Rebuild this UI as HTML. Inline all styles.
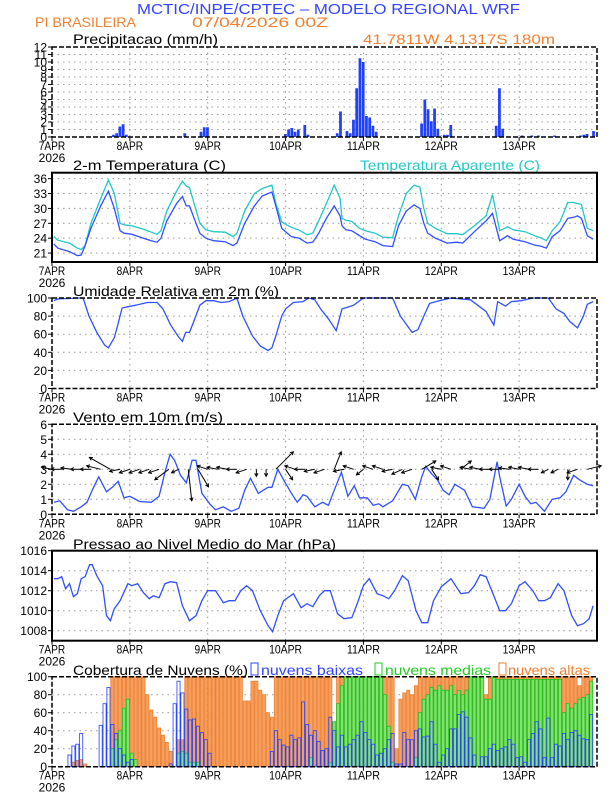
<!DOCTYPE html>
<html><head><meta charset="utf-8"><style>
html,body{margin:0;padding:0;background:#fff;}
svg{display:block;font-family:"Liberation Sans",sans-serif;}
</style></head><body>
<svg id="chart" width="612" height="792" viewBox="0 0 612 792" xmlns="http://www.w3.org/2000/svg">
<text x="137" y="14" font-size="15" fill="#3344ff" textLength="383" lengthAdjust="spacingAndGlyphs">MCTIC/INPE/CPTEC – MODELO REGIONAL WRF</text>
<text x="35" y="27" font-size="14" fill="#f08030" textLength="101" lengthAdjust="spacingAndGlyphs">PI BRASILEIRA</text>
<text x="192" y="27" font-size="14" fill="#f08030" textLength="136" lengthAdjust="spacingAndGlyphs">07/04/2026 00Z</text>
<text x="363" y="44" font-size="14" fill="#f08030" textLength="192" lengthAdjust="spacingAndGlyphs">41.7811W 4.1317S 180m</text>
<text x="73" y="44" font-size="14" fill="#000" textLength="145" lengthAdjust="spacingAndGlyphs">Precipitacao (mm/h)</text>
<text x="73" y="170" font-size="14" fill="#000" textLength="153" lengthAdjust="spacingAndGlyphs">2-m Temperatura (C)</text>
<text x="360" y="170" font-size="14" fill="#20c8c8" textLength="180" lengthAdjust="spacingAndGlyphs">Temperatura Aparente (C)</text>
<text x="73" y="296" font-size="14" fill="#000" textLength="206" lengthAdjust="spacingAndGlyphs">Umidade Relativa em 2m (%)</text>
<text x="73" y="422" font-size="14" fill="#000" textLength="150" lengthAdjust="spacingAndGlyphs">Vento em 10m (m/s)</text>
<text x="73" y="549" font-size="14" fill="#000" textLength="263" lengthAdjust="spacingAndGlyphs">Pressao ao Nivel Medio do Mar (hPa)</text>
<text x="73" y="675" font-size="14" fill="#000" textLength="175" lengthAdjust="spacingAndGlyphs">Cobertura de Nuvens (%)</text>
<rect x="251" y="663" width="7" height="12" fill="none" stroke="#3344ff"/>
<text x="261" y="675" font-size="14" fill="#3344ff" textLength="102" lengthAdjust="spacingAndGlyphs">nuvens baixas</text>
<rect x="375" y="663" width="7" height="12" fill="none" stroke="#22cc22"/>
<text x="385" y="675" font-size="14" fill="#22cc22" textLength="106" lengthAdjust="spacingAndGlyphs">nuvens medias</text>
<rect x="499" y="663" width="7" height="12" fill="none" stroke="#f08030"/>
<text x="508" y="675" font-size="14" fill="#f08030" textLength="82" lengthAdjust="spacingAndGlyphs">nuvens altas</text>
</svg>
<script>
// ---- data ----
const dayLabels=["7APR","8APR","9APR","10APR","11APR","12APR","13APR"];
const yearLabel="2026";
const precipHours=[19,20,21,22,23,41,46,47,48,72,73,74,75,76,78,79,88,89,91,92,93,94,95,96,97,98,99,100,114,115,116,117,118,119,121,122,123,137,138,139,145,148,150,155,163,164,165,167];
const precipVals=[0.3,0.5,1.4,1.7,0.3,0.5,0.7,1.3,1.3,0.4,1,1.2,0.7,1.0,1.6,0.3,0.5,3.4,0.8,0.5,2.3,6.5,10.5,10,2.8,2.6,1.5,0.7,1.8,5,3.7,2.1,3.8,1.1,0.3,0.3,1.6,1.5,6.5,1.1,0.2,0.2,0.2,0.2,0.2,0.3,0.4,0.8];
const precipTicks=[0,1,2,3,4,5,6,7,8,9,10,11,12];

const tempHours=[0.6,1.8,5.4,7.8,9,10.2,12,15,17.4,19.2,21,22.2,24.6,28.2,30.6,32.4,33.6,35.4,38.4,40.2,41.4,42.4,43.8,45.6,47.4,49.8,53.4,55.8,57,59.4,62.4,64.8,67.8,69,70.8,72,73.8,76.2,78.6,80.4,82.2,84.6,87,88.8,89.4,90.6,92.4,94.8,96.6,99.6,102,105,106.8,109.2,111.6,113.4,114.6,115.8,118.2,121.8,124.8,126.6,130.2,133.8,135.8,138,140.4,142.2,145.8,148.8,150.6,152.4,154.2,156.6,159,160.8,162,163.2,165,166.8];
const tempVals=[22.8,22,21.3,20.5,20.6,22.5,26,30.5,33.5,30,25.5,25,24.8,24,23.5,23.2,24,27.5,31,32.4,30.5,30.5,28,25,24,23.5,23.3,22.5,23,27,30.5,32.5,33.3,30.5,26,25.3,24.3,24,23,23.2,25,28,30.5,28.5,26.5,25.7,25.5,24.5,23.8,23.3,22.5,22.3,26.5,29.5,30.7,30,27,25,24,23,23.2,23,25.3,27.5,29,23.5,24.5,23.8,23.3,22.6,22.4,22,24.3,25.5,28,28.2,28.5,28,24.5,23.8];
const apparentVals=[24.3,23.6,23,22,21.7,22.5,27,32,35.7,33,27,26.7,26.5,25.8,25.2,24.8,25.5,29.5,33.5,35.5,34.5,34.2,31,27,25.7,25.3,25.2,24.3,25,29.5,33,34,34.7,31,27.3,26.8,26.2,25.6,24.7,25,27.5,31,34.7,32,28,27.6,27.4,26,25.5,25,24.2,24.1,28.5,33,34.7,34.3,30,27,26,24.9,24.9,24.7,26.5,28.5,32.8,25.5,26.3,25.7,25.3,24.5,24.1,23.5,25.5,27.3,31.2,31.2,31,30.8,26,25.5];
const tempTicks=[21,24,27,30,33,36];

const rhHours=[0.6,1.8,9,9.6,11.4,13.8,16.2,17.4,19.2,20.4,21.6,22.8,25.8,29.4,32.4,34.2,36.6,39,40.2,41.2,42.4,43.8,45.6,47.4,49.8,52.2,54.6,57,58.8,61.8,64.2,66.6,67.8,69,70.8,72,74.4,77.4,79.2,81,82.8,85.2,87.6,89.4,91.2,93,96,105,107.4,111,112.8,114.6,116.4,119.4,123,129,133.8,136.2,137.4,139.8,141.6,144.6,148.2,153,155.4,157.8,159.6,162,163.8,165,166.8];
const rhVals=[97,99,100,100,80,62,48,45,56,72,89,90,92,95,95,88,70,57,52,62,62,75,92,97,97,95,96,100,80,58,47,42,45,58,80,88,95,96,100,98,88,77,64,88,90,92,100,100,80,62,65,80,94,97,100,98,85,70,96,91,96,97,100,100,88,83,74,67,80,93,96];
const rhTicks=[0,20,40,60,80,100];

const windHours=[0.6,2.4,4.8,6.6,9,10.8,12.6,14.4,16.8,18.6,20.4,22.2,24,27,30.6,33,34.8,36.4,37.8,39.6,41.4,43.2,44.4,46.2,48.6,50.4,52.8,55.2,57.6,59.4,61.2,63.6,66.6,67.8,69.6,71.4,73.8,75.6,77.4,78.6,81,83.4,85.2,87,89.2,91.2,93.2,94.8,97.2,99,100.8,102,105,108,109.8,112,114,115.2,117,118.8,120.6,122.4,124.2,127.2,129.6,133.2,135,137.2,138,140,141.6,144,145.8,147.6,149.2,151.8,154.2,156.6,158.4,160.8,162.6,165,166.8];
const windVals=[0.8,0.9,0.3,0.2,0.5,0.8,1.7,2.5,1.5,1.8,2.2,1.1,1.2,0.85,0.8,1.2,2.8,4.0,3.6,2.6,2.1,3.6,3.6,1.4,0.7,0.3,0.5,0.2,0.4,1.6,2.4,1.4,1.8,1.8,3.0,2.3,1.4,0.8,1.3,1.2,0.5,0.8,0.6,1.6,2.8,1.2,1.9,1.1,1.1,0.6,0.7,0.5,0.9,2.0,1.9,1.0,2.5,3.2,2.7,2.3,1.6,1.3,2.0,1.6,0.5,0.4,1.0,3.5,2.5,0.55,1.0,2.0,1.2,0.7,0.8,0.2,1.0,1.1,1.5,2.6,2.3,2.0,1.9];
const windTicks=[0,1,2,3,4,5,6];
const vecHours=[0,3,6,9,12,15,18,21,24,27,30,33,36,39,42,45,48,51,54,57,60,63,66,69,72,75,78,81,84,87,90,93,96,99,102,105,108,111,114,117,120,123,126,129,132,135,138,141,144,147,150,153,156,159,162,165];
const vecU=[-1.5,-1.5,-1.5,-1.5,-1.5,-2,-3,-1.5,-1.5,-1.5,-1.5,-1.5,-2,-1,0.5,1.5,-1.5,-1.5,-1.5,-1.5,-1.5,0,0,2.5,1,-1.5,-1.5,-1.5,-1.5,1,-1.5,-1.5,-1,-1.5,-1.5,-1.5,-1.5,-1.5,2,1,-1.5,-1.5,1.5,-1.5,-1.5,-1.5,-1.5,-1.5,-1.5,-1.5,-1.5,-1,-1,0,-1.5,2];
const vecV=[0.3,0,0.2,0,0,0.5,1.7,-0.3,-0.5,-0.5,-0.5,-0.5,-1.5,-0.5,-4.5,-2.5,0.5,0.3,0.3,0,-0.5,-1,-1,2.5,-1.5,0.5,0,-0.3,-0.5,2.5,-0.3,0.5,-0.8,0.5,0.5,-0.3,-0.7,-0.5,1.2,-1.5,0.3,0.5,1.2,0.3,0.3,0,0,0.2,0.3,0.3,0,-0.5,-0.5,-1.5,-0.5,0.5];

const presHours=[0.6,1.8,3,4.2,5.4,6.6,7.8,9,10.2,11.6,12.4,13.8,15.6,16.8,18,19.2,21,23.4,24.6,26.4,28.2,30,31.2,33,34.8,36.6,38.4,40.2,42.4,44.4,46.2,48,50.4,52.8,54.6,56.4,58.2,60,61.8,64.2,66.6,68,69.6,71.4,74.4,76.8,78.6,80.4,82.4,84,85.8,88,90,92.4,94.2,96,97.8,100.2,102,103.8,105.6,108,109.8,112.2,114,115.8,117.6,120,123,126,128.4,130.2,132,133.8,136.2,138,139.8,141.6,144,145.8,148.2,150,151.8,153.6,156,157.8,160.2,162,163.8,165.6,166.8];
const presVals=[1013.2,1013.2,1013.4,1012.2,1012.7,1011.4,1011.7,1013.2,1013.4,1014.6,1014.6,1013.5,1012.5,1009.5,1009,1010.2,1011,1012.7,1012.5,1012.7,1011.8,1011.2,1011.5,1011.3,1012.7,1012.9,1012.8,1010.5,1009,1009.5,1011,1012,1012,1010.8,1011,1011,1012,1012.5,1012,1010,1008.5,1007.9,1009.5,1011,1011.7,1010.3,1010.7,1010.4,1011.5,1012,1012,1009.7,1009.2,1009.3,1010.8,1012.5,1013.2,1011.7,1011.5,1011.2,1012,1013.5,1013,1010,1008.8,1008.8,1011,1012.4,1013.2,1011.7,1011.8,1012.5,1013.6,1013.4,1011.5,1010,1010,1010.7,1012.5,1012.9,1012,1011,1011,1011.3,1012.7,1012,1009.5,1008.5,1008.7,1009.2,1010.5];
const presTicks=[1008,1010,1012,1014,1016];

const cloudStartHour=0.6, cloudStepHour=1.2;
const cloudHigh=[0,0,0,0,0,5,7,8,3,0,0,0,0,0,0,100,100,100,100,100,100,100,100,100,80,63,55,43,35,27,17,0,30,30,100,100,100,100,100,100,100,100,100,100,100,100,100,100,100,73,73,95,95,85,80,60,55,100,100,100,100,100,100,100,100,100,100,100,100,100,100,100,0,100,100,100,100,100,100,100,100,100,100,100,100,100,100,100,20,75,82,85,80,90,100,100,100,100,100,100,100,100,100,100,100,100,100,100,100,100,100,80,100,80,100,100,100,100,100,100,100,100,100,100,100,100,100,100,100,100,100,100,100,100,100,90,100,100,100];
const cloudMid=[0,0,0,0,0,0,0,0,0,0,0,0,0,0,0,20,30,40,65,75,15,8,0,0,0,0,0,0,0,0,0,0,15,17,15,5,5,5,0,0,0,0,0,0,0,0,0,0,0,0,0,0,0,0,0,0,0,0,0,0,0,0,0,0,0,0,10,0,0,0,0,5,50,70,90,100,100,100,100,100,100,100,100,100,100,80,45,5,0,0,0,0,0,10,60,75,80,88,85,90,85,85,90,80,85,80,85,100,100,100,100,75,75,100,97,97,97,97,97,97,97,97,97,97,97,97,97,97,97,97,97,60,70,65,70,75,77,80,95];
const cloudLow=[0,0,0,0,13,23,25,37,0,0,0,0,46,70,88,47,37,20,13,5,8,0,0,0,0,0,0,0,0,0,3,70,95,82,64,52,53,45,38,30,15,0,0,0,0,0,0,0,0,0,0,0,0,0,0,0,17,40,30,24,22,35,30,32,72,47,35,40,28,18,20,55,40,22,35,22,25,30,35,50,38,30,25,13,15,20,30,37,3,3,38,30,30,40,42,33,34,50,25,5,13,20,42,42,58,61,55,32,13,0,11,11,20,25,18,20,22,30,25,10,11,5,30,37,50,42,10,54,10,25,23,37,30,38,40,35,31,30,58];
const cloudTicks=[0,20,40,60,80,100];

// ---- layout ----
const svg=document.getElementById('chart');
const NS='http://www.w3.org/2000/svg';
const X0=52, X1=597, HMAX=168;
function xh(h){return X0+h*(X1-X0)/HMAX;}
function el(tag,attrs,parent){const e=document.createElementNS(NS,tag);for(const k in attrs)e.setAttribute(k,attrs[k]);(parent||svg).appendChild(e);return e;}

function panel(name,top,bottom,vmin,vmax,ticks,dashedFrame,thick){
  const g=el('g',{});
  
  
  const y=v=>bottom-(v-vmin)/(vmax-vmin)*(bottom-top);
  ticks.forEach(t=>{
    const yy=y(t);
    if(yy>top+1&&yy<bottom-1){const gl=el('line',{x1:X0,x2:X1,y1:yy,y2:yy,stroke:'#999','stroke-dasharray':'1.5 4','stroke-width':1},g);
      
      }
    const tk=el('line',{x1:X0-4,x2:X0,y1:yy,y2:yy,stroke:'#000'},g);
    
    
    const tl=el('text',{x:X0-5,y:yy+4.5,'font-size':12,'text-anchor':'end',fill:'#000'},g);
    tl.textContent=t;
    
    
  });
  for(let d=1;d<7;d++){
    const vx=xh(d*24);
    const vl=el('line',{x1:vx,x2:vx,y1:top,y2:bottom,stroke:'#999','stroke-dasharray':'1.5 4'},g);
    
    
  }
  dayLabels.forEach((lab,d)=>{
    const vx=xh(d*24);
    el('line',{x1:vx,x2:vx,y1:bottom,y2:bottom+4,stroke:'#000'},g);
    const t=el('text',{x:vx,y:bottom+13,'font-size':12,'text-anchor':'middle',fill:'#000',textLength:lab.length*6.6,lengthAdjust:'spacingAndGlyphs'},g);
    t.textContent=lab;
    
    
  });
  const yl=el('text',{x:X0,y:bottom+25,'font-size':12,'text-anchor':'middle',fill:'#000'},g);
  yl.textContent=yearLabel;
  
  
  return {g,y,top,bottom,dashedFrame,thick};
}
function frame(p,name){
  const f=el('rect',{x:X0,y:p.top,width:X1-X0,height:p.bottom-p.top,fill:'none',stroke:'#000','stroke-width':p.thick?2:1.5},p.g);
  if(p.dashedFrame)f.setAttribute('stroke-dasharray','5 2');
  
  
}
function line(p,hours,vals,color,name){
  const pts=hours.map((h,i)=>xh(h).toFixed(1)+','+p.y(vals[i]).toFixed(1)).join(' ');
  const l=el('polyline',{points:pts,fill:'none',stroke:color,'stroke-width':1.3},p.g);
  
  
}

// precipitation
const pP=panel('precip',47,137,0,12,precipTicks,true,false);
const hw=(X1-X0)/HMAX;
precipHours.forEach((h,i)=>{
  const yy=pP.y(precipVals[i]);
  const b=el('rect',{x:xh(h)-hw/2,y:yy,width:hw*0.85,height:pP.bottom-yy,fill:'#2040ff'},pP.g);
  
  
});
frame(pP,'precip');

// temperature
const pT=panel('temp',172.7,262,19.2,37.2,tempTicks,false,true);
line(pT,tempHours,apparentVals,'#20c8c8','apparent-temp-line');
line(pT,tempHours,tempVals,'#3050ff','temp-line');
frame(pT,'temp');

// RH
const pR=panel('rh',298,388.5,0,100,rhTicks,true,false);
line(pR,rhHours,rhVals,'#3050ff','rh-line');
frame(pR,'rh');

// wind
const pW=panel('wind',424.3,514.3,0,6,windTicks,true,false);
line(pW,windHours,windVals,'#3050ff','wind-speed-line');
const K=7;
vecHours.forEach((h,i)=>{
  const x0=xh(h), y0=pW.y(3);
  const x1=x0+vecU[i]*K, y1=y0-vecV[i]*K;
  const a=el('line',{x1:x0,y1:y0,x2:x1,y2:y1,stroke:'#000','stroke-width':1},pW.g);
  
  
  const ang=Math.atan2(y1-y0,x1-x0);
  const hd=el('polyline',{points:(x1-3.5*Math.cos(ang-0.5))+','+(y1-3.5*Math.sin(ang-0.5))+' '+x1+','+y1+' '+(x1-3.5*Math.cos(ang+0.5))+','+(y1-3.5*Math.sin(ang+0.5)),fill:'none',stroke:'#000','stroke-width':1},pW.g);
  
  
});
frame(pW,'wind');

// pressure
const pS=panel('pressure',550.7,640.7,1007,1016,presTicks,false,true);
line(pS,presHours,presVals,'#3050ff','pressure-line');
frame(pS,'pressure');

// clouds
const pC=panel('cloud',676.7,766.7,0,100,cloudTicks,true,false);
const cw=cloudStepHour*hw*0.8;
function cloudBars(vals,fill,stroke,name){
  vals.forEach((v,i)=>{
    if(v<=0)return;
    const h=cloudStartHour+i*cloudStepHour;
    const yy=pC.y(v);
    const b=el('rect',{x:xh(h)-cw/2,y:yy,width:cw,height:pC.bottom-yy,fill:fill,stroke:stroke,'stroke-width':0.8},pC.g);
    
    
  });
}
cloudBars(cloudHigh,'#f4a060','#f08030','cloud-high-bar');
cloudBars(cloudMid,'#88e070','#20c020','cloud-mid-bar');
cloudBars(cloudLow,'none','#2040ff','cloud-low-bar');
frame(pC,'cloud');
</script>
</body></html>
